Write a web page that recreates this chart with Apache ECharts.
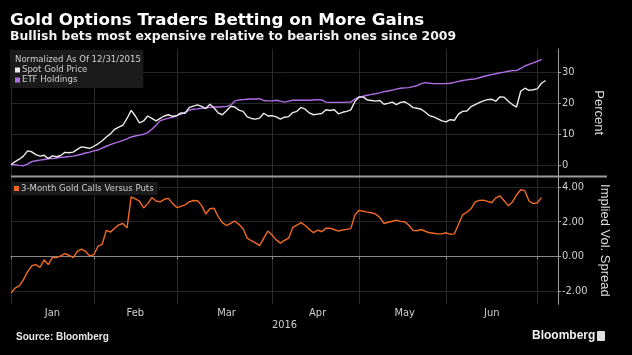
<!DOCTYPE html>
<html>
<head>
<meta charset="utf-8">
<script src="https://cdn.jsdelivr.net/npm/echarts@6/dist/echarts.min.js"></script>
<style>
  html, body { margin: 0; padding: 0; background: #000; }
  #chart { width: 632px; height: 355px; }
</style>
</head>
<body>
<div id="chart"></div>
<script>
const categories = [
  "2015-12-31",
  "2016-01-04","2016-01-05","2016-01-06","2016-01-07","2016-01-08",
  "2016-01-11","2016-01-12","2016-01-13","2016-01-14","2016-01-15",
  "2016-01-19","2016-01-20","2016-01-21","2016-01-22",
  "2016-01-25","2016-01-26","2016-01-27","2016-01-28","2016-01-29",
  "2016-02-01","2016-02-02","2016-02-03","2016-02-04","2016-02-05",
  "2016-02-08","2016-02-09","2016-02-10","2016-02-11","2016-02-12",
  "2016-02-16","2016-02-17","2016-02-18","2016-02-19",
  "2016-02-22","2016-02-23","2016-02-24","2016-02-25","2016-02-26",
  "2016-02-29",
  "2016-03-01","2016-03-02","2016-03-03","2016-03-04",
  "2016-03-07","2016-03-08","2016-03-09","2016-03-10","2016-03-11",
  "2016-03-14","2016-03-15","2016-03-16","2016-03-17","2016-03-18",
  "2016-03-21","2016-03-22","2016-03-23","2016-03-24","2016-03-25",
  "2016-03-28","2016-03-29","2016-03-30","2016-03-31",
  "2016-04-01",
  "2016-04-04","2016-04-05","2016-04-06","2016-04-07","2016-04-08",
  "2016-04-11","2016-04-12","2016-04-13","2016-04-14","2016-04-15",
  "2016-04-18","2016-04-19","2016-04-20","2016-04-21","2016-04-22",
  "2016-04-25","2016-04-26","2016-04-27","2016-04-28","2016-04-29",
  "2016-05-02","2016-05-03","2016-05-04","2016-05-05","2016-05-06",
  "2016-05-09","2016-05-10","2016-05-11","2016-05-12","2016-05-13",
  "2016-05-16","2016-05-17","2016-05-18","2016-05-19","2016-05-20",
  "2016-05-23","2016-05-24","2016-05-25","2016-05-26","2016-05-27",
  "2016-05-31",
  "2016-06-01","2016-06-02","2016-06-03",
  "2016-06-06","2016-06-07","2016-06-08","2016-06-09","2016-06-10",
  "2016-06-13","2016-06-14","2016-06-15","2016-06-16","2016-06-17",
  "2016-06-20","2016-06-21","2016-06-22","2016-06-23","2016-06-24",
  "2016-06-27","2016-06-28","2016-06-29","2016-06-30",
  "2016-07-01","2016-07-05","2016-07-06","2016-07-07","2016-07-08",
  "2016-07-11"
];

// Percent change, normalized as of 12/31/2015
const spotGold = [
  0, 1.0, 1.8, 2.8, 4.5, 4.2, 3.3, 2.8, 3.1, 2.0,
  2.9, 2.6, 3.0, 4.0, 3.9, 4.1, 5.0, 5.8, 5.6, 5.3,
  6.0, 6.8, 7.8, 9.0, 10.0, 11.5, 12.2, 12.8, 15.0, 17.6,
  15.8, 13.6, 14.2, 15.8, 15.0, 14.2, 15.0, 15.8, 16.2, 15.7,
  15.9, 16.8, 16.7, 18.5, 19.0, 19.4, 18.9, 18.2, 19.6, 18.4,
  16.8, 16.2, 17.5, 18.9, 18.7, 17.7, 17.3, 15.5, 15.0, 14.8,
  15.1, 16.7, 15.8, 15.9, 15.5, 14.8, 15.4, 15.6, 16.9, 17.3,
  18.6, 18.0, 16.8, 16.2, 16.4, 16.6, 17.8, 17.6, 17.8, 16.5,
  17.0, 17.3, 17.8, 20.5, 22.0, 21.9, 21.0, 20.8, 20.6, 20.8,
  19.6, 19.9, 20.3, 19.5, 20.2, 20.4, 19.6, 18.5, 18.3, 18.0,
  17.0, 15.9, 15.5, 14.9, 14.2, 13.9, 14.6, 14.4, 16.5, 17.3,
  17.4, 18.8, 19.5, 20.1, 20.7, 21.1, 21.2, 20.6, 22.0, 21.9,
  20.6, 19.5, 18.7, 23.8, 24.8, 24.1, 24.3, 24.6, 26.4, 27.3
];

const etfHoldings = [
  0, 0.0, -0.2, -0.3, 0.2, 1.0, 1.3, 1.5, 1.7, 2.0,
  2.0, 2.2, 2.4, 2.5, 2.7, 2.8, 3.1, 3.4, 3.8, 4.1,
  4.5, 4.8, 5.4, 6.0, 6.5, 7.0, 7.4, 7.9, 8.4, 9.0,
  9.3, 9.6, 9.9, 10.4, 11.5, 12.8, 14.3, 14.7, 15.1, 15.4,
  15.9, 16.3, 17.0, 17.7, 18.0, 18.1, 18.3, 18.4, 18.6, 18.7,
  18.7, 18.8, 18.9, 19.3, 20.6, 21.0, 21.1, 21.2, 21.3, 21.3,
  21.4, 20.8, 20.7, 20.7, 20.9, 20.6, 20.3, 20.6, 20.9, 20.9,
  20.9, 20.9, 20.9, 21.0, 21.1, 21.0, 20.3, 20.2, 20.2, 20.2,
  20.2, 20.3, 20.3, 21.3, 22.0, 22.2, 22.5, 22.8, 23.0, 23.3,
  23.7, 23.9, 24.2, 24.5, 24.8, 24.9, 25.0, 25.3, 25.6, 26.3,
  26.6, 26.4, 26.3, 26.3, 26.3, 26.3, 26.4, 26.7, 27.0, 27.3,
  27.5, 27.7, 27.8, 28.2, 28.6, 28.9, 29.2, 29.5, 29.8, 30.0,
  30.3, 30.5, 30.5, 31.2, 32.0, 32.5, 33.0, 33.5, 34.1
];

// 3-month gold calls versus puts, implied volatility spread
const callsVsPuts = [
  -2.13, -1.84, -1.72, -1.35, -0.90, -0.55, -0.48, -0.65, -0.21, -0.48,
  -0.06, -0.08, 0.02, 0.15, 0.06, -0.08, 0.28, 0.42, 0.28, 0.02,
  0.10, 0.58, 0.70, 1.50, 1.40, 1.62, 1.82, 1.90, 1.65, 3.44,
  3.33, 3.20, 2.80, 3.05, 3.40, 3.20, 3.15, 3.30, 3.35, 3.05,
  2.82, 2.89, 2.98, 3.15, 3.23, 3.22, 2.95, 2.45, 2.75, 2.78,
  2.30, 1.95, 1.78, 1.90, 2.03, 1.85, 1.60, 1.05, 0.90, 0.78,
  0.62, 1.05, 1.46, 1.23, 0.95, 0.76, 0.92, 1.05, 1.67, 1.81,
  1.95, 1.78, 1.55, 1.37, 1.52, 1.42, 1.63, 1.62, 1.55, 1.46,
  1.52, 1.56, 1.60, 2.40, 2.66, 2.61, 2.56, 2.52, 2.44, 2.25,
  1.90, 1.97, 2.03, 2.09, 2.02, 2.00, 1.80, 1.50, 1.48, 1.55,
  1.45, 1.36, 1.33, 1.30, 1.30, 1.36, 1.28, 1.30, 1.85, 2.40,
  2.55, 2.75, 3.15, 3.24, 3.25, 3.18, 3.10, 3.38, 3.50, 3.22,
  2.92, 3.15, 3.55, 3.85, 3.80, 3.20, 3.05, 3.10, 3.40
];

const percentTicks = [0, 10, 20, 30];
const spreadTicks = [-2, 0, 2, 4];
const monthNames = ["Jan","Feb","Mar","Apr","May","Jun","Jul","Aug","Sep","Oct","Nov","Dec"];

// month boundaries (first trading day of each month) and mid-month label positions.
// Index 0 (12/31/2015 baseline) opens the January section.
const monthOf = d => parseInt(d.slice(5, 7), 10) - 1;
const boundaries = [0];
for (let i = 2; i < categories.length; i++) {
  if (monthOf(categories[i]) !== monthOf(categories[i - 1])) boundaries.push(i);
}
const isBoundary = {};
boundaries.forEach(b => { isBoundary[b] = true; });
const midLabel = {};
for (let k = 0; k + 1 < boundaries.length; k++) {
  const a = boundaries[k], b = boundaries[k + 1];
  midLabel[Math.round((a + b) / 2)] = monthNames[monthOf(categories[b - 1])];
}

const NARROW = "'Liberation Sans Narrow', 'DejaVu Sans Condensed', 'Liberation Sans', sans-serif";
const SANS = "'Liberation Sans', 'DejaVu Sans', sans-serif";
const WIDE = "'DejaVu Sans', 'Liberation Sans', sans-serif";
const WHITE = '#ececec';
const PURPLE = '#b26ee6';
const ORANGE = '#f06a23';

const chart = echarts.init(document.getElementById('chart'), null, { renderer: 'canvas' });

chart.setOption({
  backgroundColor: '#000',
  animation: false,
  title: [
    { text: 'Gold Options Traders Betting on More Gains', left: 10, top: 12,
      padding: 0,
      textStyle: { color: '#fff', fontSize: 16.7, fontWeight: 'bold', fontFamily: WIDE } },
    { text: 'Bullish bets most expensive relative to bearish ones since 2009', left: 10, top: 31,
      padding: 0,
      textStyle: { color: '#f2f2f2', fontSize: 12.4, fontWeight: 'bold', fontFamily: WIDE } },
    { text: 'Normalized As Of 12/31/2015', left: 15, top: 55, padding: 0,
      textStyle: { color: '#cfcfcf', fontSize: 9.5, fontWeight: 'normal', fontFamily: NARROW } },
    { text: 'Source: Bloomberg', left: 16, top: 332, padding: 0,
      textStyle: { color: '#e6e6e6', fontSize: 10, fontWeight: 'bold', fontFamily: SANS } },
    { text: 'Bloomberg', left: 532, top: 330, padding: 0,
      textStyle: { color: '#f0f0f0', fontSize: 12, fontWeight: 'bold', fontFamily: SANS } }
  ],
  legend: [
    { data: ['Spot Gold Price', 'ETF Holdings'], orient: 'vertical', left: 10, top: 50,
      backgroundColor: '#1b1b1b', padding: [15, 56, 3, 5], itemGap: 0,
      itemWidth: 5, itemHeight: 5, icon: 'rect',
      textStyle: { color: '#cfcfcf', fontSize: 9.5, lineHeight: 10, fontFamily: NARROW, padding: [0, 0, 0, -3] } },
    { data: ['3-Month Gold Calls Versus Puts'], orient: 'horizontal', left: 11, top: 182,
      backgroundColor: '#1b1b1b', padding: [1, 4, 1, 3],
      itemWidth: 5, itemHeight: 5, icon: 'rect',
      textStyle: { color: '#cfcfcf', fontSize: 9.5, lineHeight: 11, fontFamily: NARROW, padding: [0, 0, 0, -3] } }
  ],
  grid: [
    { left: 11, right: 74, top: 49, bottom: 355 - 176.5 },
    { left: 11, right: 74, top: 176.5, bottom: 355 - 304.3 }
  ],
  xAxis: [
    { type: 'category', gridIndex: 0, data: categories, boundaryGap: false,
      axisLine: { show: false }, axisTick: { show: false }, axisLabel: { show: false },
      splitLine: { show: true, interval: (i) => !!isBoundary[i], lineStyle: { color: '#2c2c2c', width: 1 } } },
    { type: 'category', gridIndex: 1, data: categories, boundaryGap: false,
      name: '2016', nameLocation: 'middle', nameGap: 14,
      nameTextStyle: { color: '#cfcfcf', fontSize: 11, fontFamily: NARROW },
      axisLine: { show: true, lineStyle: { color: '#8a8a8a', width: 1 } },
      axisTick: { show: true, interval: (i) => !!isBoundary[i], length: 3, lineStyle: { color: '#8a8a8a' } },
      axisLabel: { show: true, interval: (i) => midLabel[i] !== undefined,
        formatter: (v, i) => midLabel[i] || '', margin: 3,
        color: '#cfcfcf', fontSize: 11, fontFamily: NARROW },
      splitLine: { show: true, interval: (i) => !!isBoundary[i], lineStyle: { color: '#2c2c2c', width: 1 } } }
  ],
  yAxis: [
    { type: 'value', gridIndex: 0, position: 'right', min: -3.8, max: 37.5,
      name: 'Percent', nameLocation: 'middle', nameRotate: -90, nameGap: 34,
      nameTextStyle: { color: '#dcdcdc', fontSize: 13, fontFamily: SANS },
      axisLine: { show: true, onZero: false, lineStyle: { color: '#a0a0a0', width: 1 } },
      axisTick: { show: true, customValues: percentTicks, length: 3, lineStyle: { color: '#a0a0a0' } },
      axisLabel: { customValues: percentTicks, margin: 4, color: '#cfcfcf', fontSize: 11, fontFamily: NARROW },
      splitLine: { show: true, lineStyle: { color: '#262626', width: 1 } } },
    { type: 'value', gridIndex: 1, position: 'right', min: -2.78, max: 4.62,
      name: 'Implied Vol. Spread', nameLocation: 'middle', nameRotate: -90, nameGap: 34,
      nameTextStyle: { color: '#dcdcdc', fontSize: 13, fontFamily: SANS },
      axisLine: { show: true, onZero: false, lineStyle: { color: '#a0a0a0', width: 1 } },
      axisTick: { show: true, customValues: spreadTicks, length: 3, lineStyle: { color: '#a0a0a0' } },
      axisLabel: { customValues: spreadTicks, margin: 4, color: '#cfcfcf', fontSize: 11, fontFamily: NARROW,
        formatter: v => v.toFixed(2) },
      splitLine: { show: true, lineStyle: { color: '#262626', width: 1 } } }
  ],
  series: [
    { name: 'ETF Holdings', type: 'line', xAxisIndex: 0, yAxisIndex: 0, data: etfHoldings,
      showSymbol: false, color: PURPLE, lineStyle: { color: PURPLE, width: 1.4 } },
    { name: 'Spot Gold Price', type: 'line', xAxisIndex: 0, yAxisIndex: 0, data: spotGold,
      showSymbol: false, color: WHITE, lineStyle: { color: WHITE, width: 1.4 } },
    { name: '3-Month Gold Calls Versus Puts', type: 'line', xAxisIndex: 1, yAxisIndex: 1, data: callsVsPuts,
      showSymbol: false, color: ORANGE, lineStyle: { color: ORANGE, width: 1.4 } }
  ],
  graphic: [
    { type: 'line', shape: { x1: 11, y1: 176.5, x2: 607, y2: 176.5 },
      style: { stroke: '#9a9a9a', lineWidth: 2 }, z: 100 },
    { type: 'rect', shape: { x: 597, y: 331, width: 8, height: 10, r: 1 },
      style: { fill: '#e0e0e0' }, z: 100 }
  ]
});
</script>
</body>
</html>
